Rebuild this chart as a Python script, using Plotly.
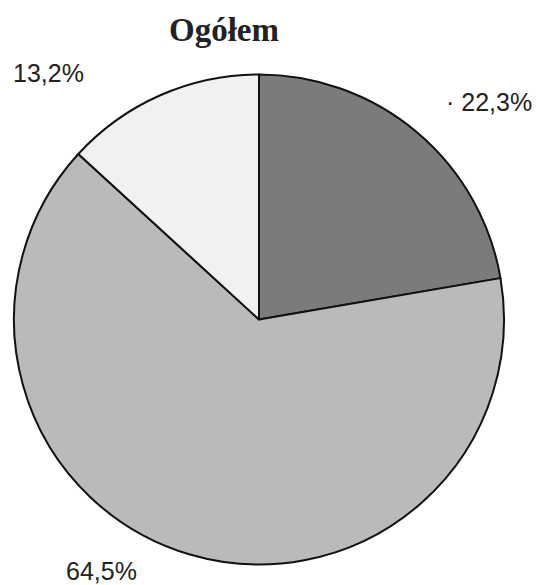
import plotly.graph_objects as go

categories = ["A", "B", "C"]
values = [22.3, 64.5, 13.2]
label_texts = ["· 22,3%", "64,5%", "13,2%"]
colors = ["#7b7b7b", "#bababa", "#f1f1f1"]

# page body has an 8px margin; figure is sized to fit the 544x585 window
OFF = 8
W, H = 544 - OFF, 585 - OFF


def px(x):
    return (x - OFF) / W


def py(y):
    return 1 - (y - OFF) / H


fig = go.Figure(go.Pie(
    labels=categories,
    values=values,
    sort=False,
    direction="clockwise",
    rotation=0,
    marker=dict(colors=colors, line=dict(color="#111111", width=2)),
    textinfo="none",
    hoverinfo="label+value",
    showlegend=False,
    domain=dict(x=[px(14), px(504)], y=[py(565), py(74)]),
))

label_pos = [(489, 102), (101, 571), (48, 73)]
for t, (x, y) in zip(label_texts, label_pos):
    fig.add_annotation(x=px(x), y=py(y), xref="paper", yref="paper", text=t, showarrow=False,
                       font=dict(family="Liberation Sans, Arial", size=25, color="#222222"),
                       xanchor="center", yanchor="middle")

fig.update_layout(
    width=W, height=H,
    margin=dict(l=0, r=0, t=0, b=0),
    paper_bgcolor="white", plot_bgcolor="white",
    title=dict(text="<b>Ogółem</b>", x=px(224), xanchor="center", y=py(29), yanchor="middle",
               font=dict(family="Liberation Serif, Times New Roman", size=33, color="#222222")),
)
fig.write_html("out.html")
